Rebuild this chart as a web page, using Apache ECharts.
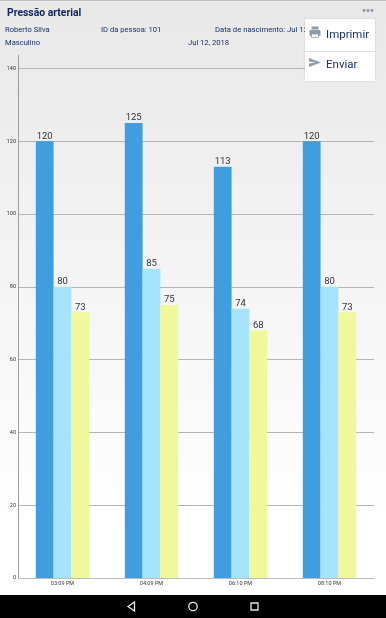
<!DOCTYPE html>
<html>
<head>
<meta charset="utf-8">
<style>
  html, body { margin: 0; padding: 0; background: #fff; }
  #main { width: 386px; height: 618px; }
</style>
<script src="https://cdn.jsdelivr.net/npm/echarts@6/dist/echarts.min.js"></script>
</head>
<body>
<div id="main"></div>
<script>
var times = ["03:09 PM", "04:09 PM", "06:10 PM", "08:10 PM"];
var pressaoA = [120, 125, 113, 120];
var pressaoB = [80, 85, 74, 80];
var pressaoC = [73, 75, 68, 73];
var colors = ["#409edf", "#a5e4fb", "#f1f79b"];
var navy = "#1a2f6b";

var chart = echarts.init(document.getElementById("main"));

function barSeries(values, color) {
  return {
    type: "bar",
    data: values,
    barGap: 0,
    barCategoryGap: "40%",
    itemStyle: { color: color },
    label: {
      show: true,
      position: "top",
      distance: 0,
      fontFamily: "Roboto",
      fontSize: 9.5,
      color: "#333"
    }
  };
}

function txt(x, y, text, size, color, weight) {
  return {
    type: "text", x: x, y: y, z: 10,
    style: { text: text, fontFamily: "Roboto", fontSize: size, fill: color, fontWeight: weight || "normal", textVerticalAlign: "middle" }
  };
}

chart.setOption({
  animation: false,
  backgroundColor: {
    type: "linear", x: 0, y: 0, x2: 0, y2: 1,
    colorStops: [
      { offset: 0, color: "#e8e8e8" },
      { offset: 0.85, color: "#ffffff" },
      { offset: 1, color: "#ffffff" }
    ]
  },
  grid: { left: 18, right: 12, top: 55, bottom: 40 },
  xAxis: {
    type: "category",
    data: times,
    axisTick: { show: false },
    axisLine: { lineStyle: { color: "#bdbdbd", width: 1 } },
    axisLabel: { fontFamily: "Roboto", fontSize: 5.5, color: "#333", margin: 3 }
  },
  yAxis: {
    type: "value",
    min: 0,
    max: 143.7,
    interval: 20,
    axisLine: { show: true, lineStyle: { color: "#9e9e9e", width: 1 } },
    axisTick: { show: false },
    axisLabel: { fontFamily: "Roboto", fontSize: 5.5, color: "#333", margin: 2, showMaxLabel: false },
    splitLine: { showMaxLine: false, lineStyle: { color: "#b5b5b5", width: 1 } }
  },
  series: [
    barSeries(pressaoA, colors[0]),
    barSeries(pressaoB, colors[1]),
    barSeries(pressaoC, colors[2])
  ],
  graphic: [
    { type: "rect", z: 9, shape: { x: 0, y: 0, width: 386, height: 1 }, style: { fill: "#bdbdbd" } },
    txt(7, 13, "Pressão arterial", 10.4, "#10225f", "bold"),
    txt(5, 30, "Roberto Silva", 7.6, navy),
    txt(101, 30, "ID da pessoa: 101", 7.6, navy),
    txt(215, 30, "Data de nascimento: Jul 12, 2018", 7.7, navy),
    txt(5, 43.5, "Masculino", 7.6, navy),
    txt(188, 43.5, "Jul 12, 2018", 7.6, navy),
    // overflow dots
    { type: "circle", z: 10, shape: { cx: 364, cy: 10.5, r: 1.4 }, style: { fill: "#8a93a5" } },
    { type: "circle", z: 10, shape: { cx: 368, cy: 10.5, r: 1.4 }, style: { fill: "#8a93a5" } },
    { type: "circle", z: 10, shape: { cx: 372, cy: 10.5, r: 1.4 }, style: { fill: "#8a93a5" } },
    // menu
    { type: "rect", z: 20, shape: { x: 305, y: 19, width: 70, height: 62 }, style: { fill: "#fff", shadowBlur: 2, shadowColor: "rgba(0,0,0,0.15)" } },
    { type: "rect", z: 21, shape: { x: 305, y: 51, width: 70, height: 1 }, style: { fill: "#e3e3e3" } },
    { type: "rect", z: 21, shape: { x: 309.5, y: 30, width: 11, height: 6, r: 1 }, style: { fill: "#8f9bab" } },
    { type: "rect", z: 21, shape: { x: 311.5, y: 26.5, width: 7, height: 3 }, style: { fill: "#8f9bab" } },
    { type: "rect", z: 21, shape: { x: 311.5, y: 34, width: 7, height: 3.5 }, style: { fill: "#fff", stroke: "#8f9bab", lineWidth: 0.8 } },
    { type: "polygon", z: 21, shape: { points: [[309, 58], [321, 62.5], [309, 67], [309, 63.5], [316, 62.5], [309, 61.5]] }, style: { fill: "#8f9bab" } },
    { type: "text", x: 326, y: 35, z: 21, style: { text: "Imprimir", fontFamily: "Roboto", fontSize: 11.5, fill: navy, textVerticalAlign: "middle" } },
    { type: "text", x: 326, y: 65, z: 21, style: { text: "Enviar", fontFamily: "Roboto", fontSize: 11.5, fill: navy, textVerticalAlign: "middle" } },
    // nav bar
    { type: "rect", z: 30, shape: { x: 0, y: 595, width: 386, height: 23 }, style: { fill: "#000" } },
    { type: "polygon", z: 31, shape: { points: [[134.5, 602], [134.5, 611], [128, 606.5]] }, style: { fill: "none", stroke: "#e8e8e8", lineWidth: 1.3 } },
    { type: "circle", z: 31, shape: { cx: 193, cy: 606.5, r: 4.2 }, style: { fill: "none", stroke: "#e8e8e8", lineWidth: 1.3 } },
    { type: "rect", z: 31, shape: { x: 251, y: 603, width: 7, height: 7 }, style: { fill: "none", stroke: "#e8e8e8", lineWidth: 1.3 } }
  ]
});
</script>
</body>
</html>
